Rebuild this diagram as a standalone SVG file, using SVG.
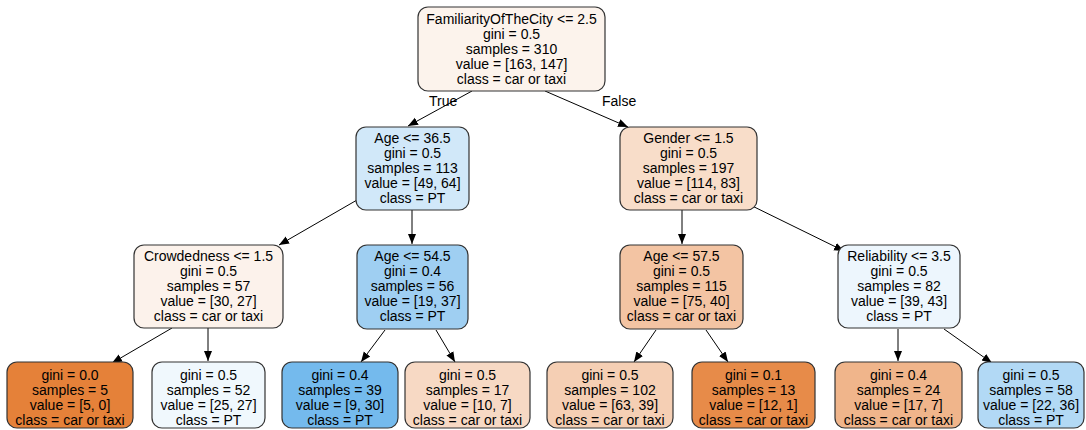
<svg xmlns="http://www.w3.org/2000/svg" width="1086" height="430" viewBox="0 0 1086 430">
<defs>
<marker id="ah" viewBox="0 0 10 10" refX="10" refY="5" markerWidth="10" markerHeight="10" markerUnits="userSpaceOnUse" orient="auto">
<path d="M0,1 L10,5 L0,9 Z" fill="#000"/>
</marker>
<style>
.n rect{stroke:#333;stroke-width:1.2}
.n text{font-family:"Liberation Sans",Arial,sans-serif;font-size:14px;fill:#000;text-anchor:middle}
.e line{stroke:#000;stroke-width:1;marker-end:url(#ah)}
.lbl{font-family:"Liberation Sans",Arial,sans-serif;font-size:14px;fill:#000}
</style>
</defs>
<rect width="1086" height="430" fill="#fff"/>
<g id="connectors" class="e">
<line x1="472" y1="91" x2="408" y2="126"/>
<line x1="545" y1="91" x2="628" y2="127"/>
<line x1="357" y1="200" x2="279" y2="245"/>
<line x1="412" y1="210" x2="412" y2="244"/>
<line x1="682" y1="210" x2="682" y2="244"/>
<line x1="740" y1="200" x2="844" y2="251"/>
<line x1="172" y1="328" x2="112" y2="363"/>
<line x1="208" y1="328" x2="208" y2="361"/>
<line x1="385" y1="330" x2="361" y2="362"/>
<line x1="436" y1="330" x2="455" y2="362"/>
<line x1="656" y1="330" x2="634" y2="362"/>
<line x1="706" y1="330" x2="728" y2="362"/>
<line x1="898" y1="329" x2="898" y2="361"/>
<line x1="944" y1="329" x2="992" y2="363"/>
<text class="lbl" x="429" y="106">True</text>
<text class="lbl" x="602" y="106">False</text>
</g>
<g id="n0" class="n"><rect x="418" y="7" width="187" height="84" rx="10" fill="#fcf3ec"/>
<text x="511.5" y="24">FamiliarityOfTheCity &lt;= 2.5</text><text x="511.5" y="39">gini = 0.5</text><text x="511.5" y="54">samples = 310</text><text x="511.5" y="69">value = [163, 147]</text><text x="511.5" y="84">class = car or taxi</text></g>
<g id="n1" class="n"><rect x="356" y="127" width="113" height="83" rx="10" fill="#d1e8f9"/>
<text x="412.5" y="143">Age &lt;= 36.5</text><text x="412.5" y="158">gini = 0.5</text><text x="412.5" y="173">samples = 113</text><text x="412.5" y="188">value = [49, 64]</text><text x="412.5" y="203">class = PT</text></g>
<g id="n2" class="n"><rect x="620" y="127" width="137" height="83" rx="10" fill="#f8ddc9"/>
<text x="688.5" y="143">Gender &lt;= 1.5</text><text x="688.5" y="158">gini = 0.5</text><text x="688.5" y="173">samples = 197</text><text x="688.5" y="188">value = [114, 83]</text><text x="688.5" y="203">class = car or taxi</text></g>
<g id="n3" class="n"><rect x="134" y="245" width="149" height="83" rx="10" fill="#fcf2eb"/>
<text x="208.5" y="261">Crowdedness &lt;= 1.5</text><text x="208.5" y="276">gini = 0.5</text><text x="208.5" y="291">samples = 57</text><text x="208.5" y="306">value = [30, 27]</text><text x="208.5" y="321">class = car or taxi</text></g>
<g id="n4" class="n"><rect x="357" y="245" width="111" height="84" rx="10" fill="#9fcff2"/>
<text x="412.5" y="261">Age &lt;= 54.5</text><text x="412.5" y="276">gini = 0.4</text><text x="412.5" y="291">samples = 56</text><text x="412.5" y="306">value = [19, 37]</text><text x="412.5" y="321">class = PT</text></g>
<g id="n5" class="n"><rect x="620" y="245" width="123" height="84" rx="10" fill="#f3c4a3"/>
<text x="681.5" y="261">Age &lt;= 57.5</text><text x="681.5" y="276">gini = 0.5</text><text x="681.5" y="291">samples = 115</text><text x="681.5" y="306">value = [75, 40]</text><text x="681.5" y="321">class = car or taxi</text></g>
<g id="n6" class="n"><rect x="838" y="245" width="122" height="83" rx="10" fill="#edf6fd"/>
<text x="899" y="261">Reliability &lt;= 3.5</text><text x="899" y="276">gini = 0.5</text><text x="899" y="291">samples = 82</text><text x="899" y="306">value = [39, 43]</text><text x="899" y="321">class = PT</text></g>
<g id="n7" class="n"><rect x="7" y="362" width="126" height="66" rx="10" fill="#e58139"/>
<text x="70" y="380">gini = 0.0</text><text x="70" y="395">samples = 5</text><text x="70" y="410">value = [5, 0]</text><text x="70" y="425">class = car or taxi</text></g>
<g id="n8" class="n"><rect x="152" y="362" width="113" height="66" rx="10" fill="#f0f8fd"/>
<text x="208.5" y="380">gini = 0.5</text><text x="208.5" y="395">samples = 52</text><text x="208.5" y="410">value = [25, 27]</text><text x="208.5" y="425">class = PT</text></g>
<g id="n9" class="n"><rect x="282" y="362" width="116" height="66" rx="10" fill="#74baed"/>
<text x="340" y="380">gini = 0.4</text><text x="340" y="395">samples = 39</text><text x="340" y="410">value = [9, 30]</text><text x="340" y="425">class = PT</text></g>
<g id="n10" class="n"><rect x="405" y="362" width="125" height="66" rx="10" fill="#f7d9c4"/>
<text x="467.5" y="380">gini = 0.5</text><text x="467.5" y="395">samples = 17</text><text x="467.5" y="410">value = [10, 7]</text><text x="467.5" y="425">class = car or taxi</text></g>
<g id="n11" class="n"><rect x="547" y="362" width="126" height="66" rx="10" fill="#f5cfb4"/>
<text x="610" y="380">gini = 0.5</text><text x="610" y="395">samples = 102</text><text x="610" y="410">value = [63, 39]</text><text x="610" y="425">class = car or taxi</text></g>
<g id="n12" class="n"><rect x="692" y="362" width="123" height="66" rx="10" fill="#e78b49"/>
<text x="753.5" y="380">gini = 0.1</text><text x="753.5" y="395">samples = 13</text><text x="753.5" y="410">value = [12, 1]</text><text x="753.5" y="425">class = car or taxi</text></g>
<g id="n13" class="n"><rect x="835" y="362" width="127" height="66" rx="10" fill="#f0b58b"/>
<text x="898.5" y="380">gini = 0.4</text><text x="898.5" y="395">samples = 24</text><text x="898.5" y="410">value = [17, 7]</text><text x="898.5" y="425">class = car or taxi</text></g>
<g id="n14" class="n"><rect x="978" y="362" width="106" height="66" rx="10" fill="#b2d9f5"/>
<text x="1031" y="380">gini = 0.5</text><text x="1031" y="395">samples = 58</text><text x="1031" y="410">value = [22, 36]</text><text x="1031" y="425">class = PT</text></g>
</svg>
